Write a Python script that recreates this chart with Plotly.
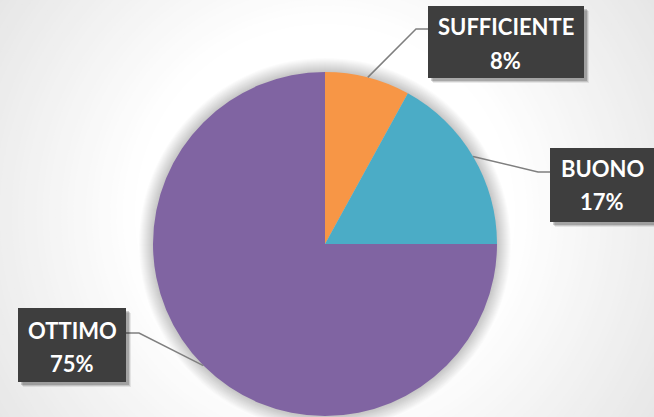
import math
import plotly.graph_objects as go

# ---- data ----
labels = ["SUFFICIENTE", "BUONO", "OTTIMO"]
values = [8, 17, 75]
colors = ["#F79646", "#4BACC6", "#8064A2"]

# ---- layout constants (pixels) ----
W, H = 654, 417
CX, CY, R = 325, 244, 172
boxes = [(428, 6, 584, 78), (550, 148, 656, 222), (18, 308, 126, 382)]
elbows = [((416, 29), (428, 29)), ((538, 172), (550, 172)), ((139, 333), (126, 333))]
name_y = [26, 169, 330]
pct_y = [60, 201, 363]
FONT = dict(family="Lato", size=22, color="white")


def px(x):
    return x / W


def py(y):
    return 1 - y / H


shapes = []
# background radial gradient
N = 40
for i in range(N):
    t = i / (N - 1)
    r = 430 - t * (430 - 190)
    g = round(226 + t * (255 - 226))
    shapes.append(dict(type="circle", xref="paper", yref="paper", layer="below",
                       x0=px(CX - r), x1=px(CX + r), y0=py(CY - 30 + r), y1=py(CY - 30 - r),
                       fillcolor=f"rgb({g},{g},{g})", line=dict(width=0)))
# soft glow around the pie
for k in range(14, 0, -1):
    r = R + k
    shapes.append(dict(type="circle", xref="paper", yref="paper", layer="below",
                       x0=px(CX - r), x1=px(CX + r), y0=py(CY + r), y1=py(CY - r),
                       fillcolor="rgba(0,0,0,0.014)", line=dict(width=0)))

total = sum(values)
annotations = []
cum = 0
for i, (lab, v) in enumerate(zip(labels, values)):
    mid = (cum + v / 2) / total * 2 * math.pi
    cum += v
    sx = CX + R * math.sin(mid)
    sy = CY - R * math.cos(mid)
    (ex, ey), (bx, by) = elbows[i]
    shapes.append(dict(type="path", xref="paper", yref="paper", layer="above",
                       path=f"M {px(sx)},{py(sy)} L {px(ex)},{py(ey)} L {px(bx)},{py(by)}",
                       line=dict(color="#7f7f7f", width=1.5)))
    x0, y0, x1, y1 = boxes[i]
    # box shadow
    for d, a in ((5, 0.08), (4, 0.12), (3, 0.18)):
        shapes.append(dict(type="rect", xref="paper", yref="paper", layer="above",
                           x0=px(x0 + d), x1=px(x1 + d), y0=py(y1 + d), y1=py(y0 + d),
                           fillcolor=f"rgba(0,0,0,{a})", line=dict(width=0)))
    shapes.append(dict(type="rect", xref="paper", yref="paper", layer="above",
                       x0=px(x0), x1=px(x1), y0=py(y1), y1=py(y0),
                       fillcolor="#3e3e3e", line=dict(width=0)))
    xc = px((x0 + min(x1, W)) / 2)
    annotations.append(dict(xref="paper", yref="paper", x=xc, y=py(name_y[i]),
                            text=f"<b>{lab}</b>", showarrow=False,
                            xanchor="center", yanchor="middle", font=FONT))
    annotations.append(dict(xref="paper", yref="paper", x=xc, y=py(pct_y[i]),
                            text=f"<b>{round(v / total * 100)}%</b>", showarrow=False,
                            xanchor="center", yanchor="middle", font=FONT))

fig = go.Figure(go.Pie(
    labels=labels, values=values, sort=False, direction="clockwise", rotation=0,
    marker=dict(colors=colors, line=dict(width=0)),
    textinfo="none", textposition="none", hoverinfo="label+percent",
    domain=dict(x=[px(CX - R), px(CX + R)], y=[py(CY + R), py(CY - R)]),
    showlegend=False,
))

fig.update_layout(
    width=W, height=H,
    margin=dict(l=0, r=0, t=0, b=0),
    paper_bgcolor="#e4e4e4", plot_bgcolor="#e4e4e4",
    shapes=shapes, annotations=annotations,
)

fig.write_html("out.html", config={"displayModeBar": False},
               post_script="document.body.style.margin='0';document.body.style.overflow='hidden';")
